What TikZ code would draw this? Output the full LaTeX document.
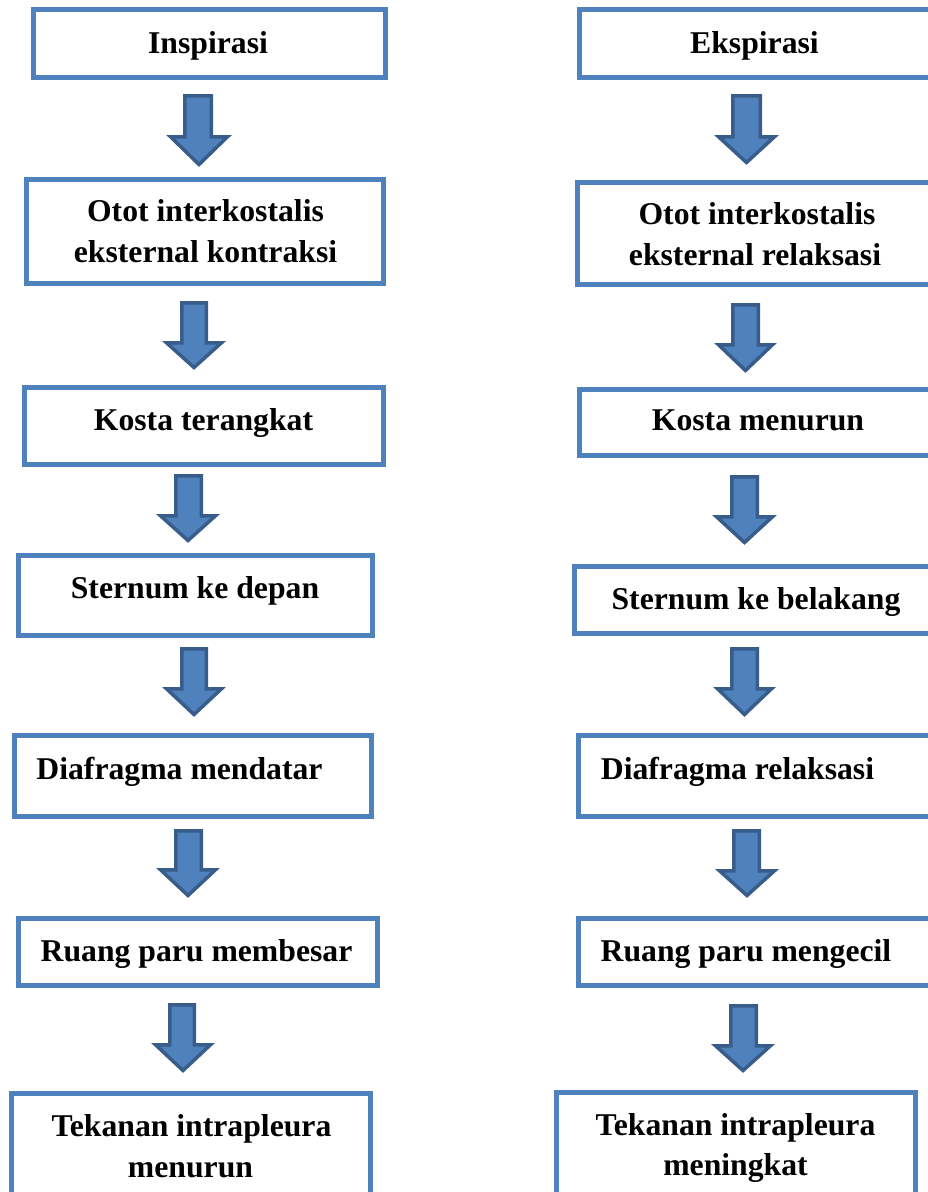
\documentclass[tikz,border=0pt]{standalone}
\usepackage{fontspec}
\setmainfont{Liberation Serif}
\definecolor{boxblue}{HTML}{4F81BD}
\definecolor{arrfill}{HTML}{4F81BD}
\definecolor{arrline}{HTML}{385D8A}
\tikzset{
  box/.style={draw=boxblue, line width=5pt, fill=white, rectangle, inner sep=0pt, outer sep=0pt},
  lbl/.style={anchor=base, inner sep=0pt, font=\fontsize{31.7}{40}\selectfont\bfseries, text=black},
  blockarrow/.style={fill=arrfill, draw=arrline, line width=3.5pt, line join=miter}
}
% block arrow: shaft x1, shaft x2, head x1, head x2, top, head start, tip (outer pixel coords)
\newcommand\blkarrow[7]{%
  \draw[blockarrow] ({#1+1.75},{#5+1.75}) -- ({#2-1.75},{#5+1.75}) -- ({#2-1.75},{#6+1.75})
    -- ({#4-2.5},{#6+1.75}) -- ({(#3+#4)/2},{#7-2.5}) -- ({#3+2.5},{#6+1.75})
    -- ({#1+1.75},{#6+1.75}) -- cycle;}
\begin{document}
\begin{tikzpicture}[x=1pt,y=-1pt]
\useasboundingbox (0,0) rectangle (928,1192);
\clip (0,0) rectangle (928,1192);
\fill[white] (0,0) rectangle (928,1192);
% left column boxes
\node[box, minimum width=352, minimum height=68]  (l1) at (209.5,43.5) {};
\node[box, minimum width=357, minimum height=104] (l2) at (205,231.5) {};
\node[box, minimum width=359, minimum height=77]  (l3) at (204,426) {};
\node[box, minimum width=354, minimum height=80]  (l4) at (195.5,595.5) {};
\node[box, minimum width=357, minimum height=81]  (l5) at (193,776) {};
\node[box, minimum width=359, minimum height=67]  (l6) at (198,952) {};
\node[box, minimum width=359, minimum height=109] (l7) at (191,1148) {};
% right column boxes
\node[box, minimum width=353, minimum height=68]  (r1) at (756,43.5) {};
\node[box, minimum width=355, minimum height=102] (r2) at (755,233.5) {};
\node[box, minimum width=353, minimum height=66]  (r3) at (756,422.5) {};
\node[box, minimum width=358, minimum height=67]  (r4) at (753.5,600) {};
\node[box, minimum width=354, minimum height=81]  (r5) at (755.5,776) {};
\node[box, minimum width=354, minimum height=67]  (r6) at (755.5,952) {};
\node[box, minimum width=359, minimum height=110] (r7) at (736,1147.5) {};
% labels
\node[lbl] (t-l1) at (208,53) {Inspirasi};
\node[lbl] (t-l2a) at (205.5,221) {Otot interkostalis};
\node[lbl] (t-l2b) at (205.5,262) {eksternal kontraksi};
\node[lbl] (t-l3) at (203.5,430) {Kosta terangkat};
\node[lbl] (t-l4) at (195,598) {Sternum ke depan};
\node[lbl] (t-l5) at (179.5,779) {Diafragma mendatar};
\node[lbl] (t-l6) at (196.5,961) {Ruang paru membesar};
\node[lbl] (t-l7a) at (191.5,1136) {Tekanan intrapleura};
\node[lbl] (t-l7b) at (190.5,1177) {menurun};
\node[lbl] (t-r1) at (754.5,53) {Ekspirasi};
\node[lbl] (t-r2a) at (757,224) {Otot interkostalis};
\node[lbl] (t-r2b) at (755,265) {eksternal relaksasi};
\node[lbl] (t-r3) at (758,430) {Kosta menurun};
\node[lbl] (t-r4) at (756,609) {Sternum ke belakang};
\node[lbl] (t-r5) at (737.5,779) {Diafragma relaksasi};
\node[lbl] (t-r6) at (746,961) {Ruang paru mengecil};
\node[lbl] (t-r7a) at (735.5,1135) {Tekanan intrapleura};
\node[lbl] (t-r7b) at (735.5,1175) {meningkat};
% arrows left (l1->l2 ... l6->l7)
\blkarrow{183}{213}{168}{230}{94}{135}{167}
\blkarrow{180}{208}{164}{224}{301}{341}{370}
\blkarrow{174}{203}{158}{218}{474}{514}{543}
\blkarrow{180}{208}{164}{224}{647}{687}{717}
\blkarrow{174}{203}{158}{218}{829}{868}{898}
\blkarrow{168}{196}{153}{213}{1003}{1043}{1073}
% arrows right (r1->r2 ... r6->r7)
\blkarrow{731}{762}{716}{777}{94}{135}{165}
\blkarrow{731}{760}{716}{775}{303}{343}{373}
\blkarrow{730}{759}{714}{775}{475}{515}{545}
\blkarrow{730}{759}{715}{774}{647}{687}{717}
\blkarrow{732}{761}{717}{777}{829}{869}{898}
\blkarrow{729}{758}{713}{773}{1004}{1044}{1073}
\end{tikzpicture}
\end{document}
